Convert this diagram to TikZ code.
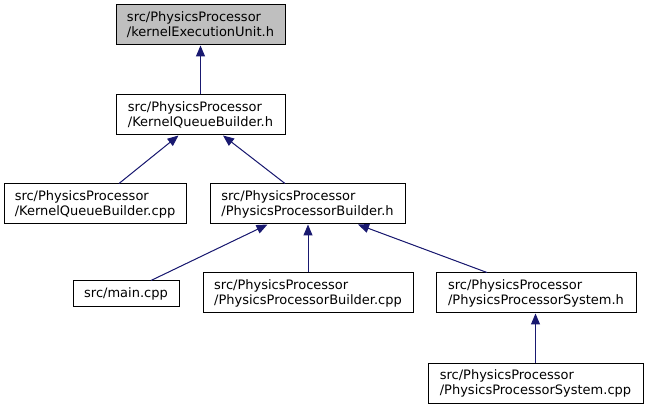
\documentclass[tikz,border=0pt]{standalone}
\usepackage{fontspec}
\setmainfont{DejaVu Sans}
\usetikzlibrary{arrows.meta}
\definecolor{edgeblue}{HTML}{191970}
\definecolor{topgray}{HTML}{BFBFBF}
\tikzset{
  filebox/.style={draw=black, line width=1pt, fill=white, inner sep=0pt, align=left,
    font=\fontsize{13}{15}\selectfont, text=black},
  dep/.style={draw=edgeblue, line width=1pt, -{Triangle[length=11pt,width=9pt]}, fill=edgeblue}
}
\begin{document}
\begin{tikzpicture}[x=1pt,y=-1pt]
\useasboundingbox (0,0) rectangle (649,409);
\node[filebox, fill=topgray, minimum width=169pt, minimum height=40pt] (A) at (200.5,25) {src/PhysicsProcessor\\/kernelExecutionUnit.h};
\node[filebox, minimum width=169pt, minimum height=40pt] (B) at (200.5,115) {src/PhysicsProcessor\\/KernelQueueBuilder.h};
\node[filebox, minimum width=182pt, minimum height=40pt] (C) at (95,204) {src/PhysicsProcessor\\/KernelQueueBuilder.cpp};
\node[filebox, minimum width=195pt, minimum height=40pt] (D) at (307.5,204) {src/PhysicsProcessor\\/PhysicsProcessorBuilder.h};
\node[filebox, minimum width=106pt, minimum height=26pt] (E) at (126,294) {src/main.cpp};
\node[filebox, minimum width=210pt, minimum height=40pt] (F) at (308,293) {src/PhysicsProcessor\\/PhysicsProcessorBuilder.cpp};
\node[filebox, minimum width=200pt, minimum height=40pt] (G) at (536,293) {src/PhysicsProcessor\\/PhysicsProcessorSystem.h};
\node[filebox, minimum width=215pt, minimum height=40pt] (H) at (535.5,383) {src/PhysicsProcessor\\/PhysicsProcessorSystem.cpp};

\draw[dep] (B.north) -- (A.south);
\draw[dep] ([xshift=24pt]C.north) -- ([xshift=-22pt]B.south);
\draw[dep] ([xshift=-22.5pt]D.north) -- ([xshift=22.5pt]B.south);
\draw[dep] ([xshift=25pt]E.north) -- ([xshift=-40pt]D.south);
\draw[dep] (F.north) -- ([xshift=0.5pt]D.south);
\draw[dep] ([xshift=-49pt]G.north) -- ([xshift=50.5pt]D.south);
\draw[dep] (H.north) -- ([xshift=-0.5pt]G.south);
\end{tikzpicture}
\end{document}
